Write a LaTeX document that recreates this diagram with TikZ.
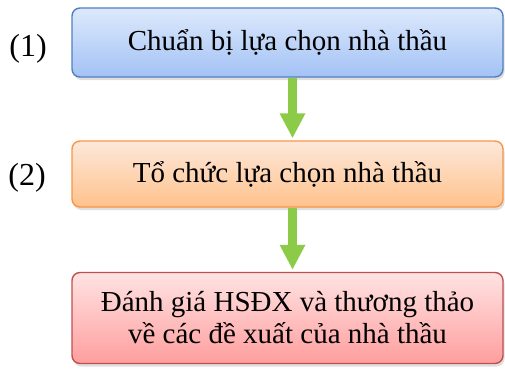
\documentclass[tikz,border=0pt]{standalone}
\usepackage{fontspec}
\setmainfont{Liberation Serif}
\usetikzlibrary{arrows.meta,shadows}

\definecolor{blueedge}{HTML}{4F81BD}
\definecolor{bluetop}{HTML}{DDE9FC}
\definecolor{bluebot}{HTML}{A3C2F5}
\definecolor{orangeedge}{HTML}{F79646}
\definecolor{orangetop}{HTML}{FDE8DA}
\definecolor{orangebot}{HTML}{FFC28C}
\definecolor{rededge}{HTML}{C0504D}
\definecolor{redtop}{HTML}{FFE3E3}
\definecolor{redbot}{HTML}{FF9E9E}
\definecolor{arrowgreen}{HTML}{8CCB47}

\tikzset{
  stage/.style={draw, line width=1.4pt, rounded corners=8pt, align=center,
    minimum width=431pt, inner sep=0pt,
    font=\fontsize{29}{32}\selectfont,
    drop shadow={shadow xshift=1.5pt, shadow yshift=-3pt, opacity=.25}},
  stepno/.style={font=\fontsize{32}{34}\selectfont},
  flow/.style={arrowgreen, line width=9pt,
    -{Triangle[length=25pt, width=24pt]}, shorten >=2pt}
}

\begin{document}
\begin{tikzpicture}[x=1pt, y=-1pt]
  \useasboundingbox (0,0) rectangle (505,369);
  % three stages, top to bottom
  \node[stage, draw=blueedge, top color=bluetop, bottom color=bluebot,
    minimum height=69pt] (prep) at (287.5,42.5)
    {Chuẩn bị lựa chọn nhà thầu};
  \node[stage, draw=orangeedge, top color=orangetop, bottom color=orangebot,
    minimum height=66pt] (org) at (287.5,174)
    {Tổ chức lựa chọn nhà thầu};
  \node[stage, draw=rededge, top color=redtop, bottom color=redbot,
    minimum height=91pt] (eval) at (287.5,318)
    {Đánh giá HSĐX và thương thảo\\về các đề xuất của nhà thầu};
  % step numbers
  \node[stepno] (n1) at (28,49) {(1)};
  \node[stepno] (n2) at (27,178) {(2)};
  % arrows between stages
  \coordinate (a1) at ([xshift=5pt]prep.south);
  \coordinate (a2) at ([xshift=5pt]org.south);
  \draw[flow] (a1) -- (org.north -| a1);
  \draw[flow] (a2) -- (eval.north -| a2);
\end{tikzpicture}
\end{document}
